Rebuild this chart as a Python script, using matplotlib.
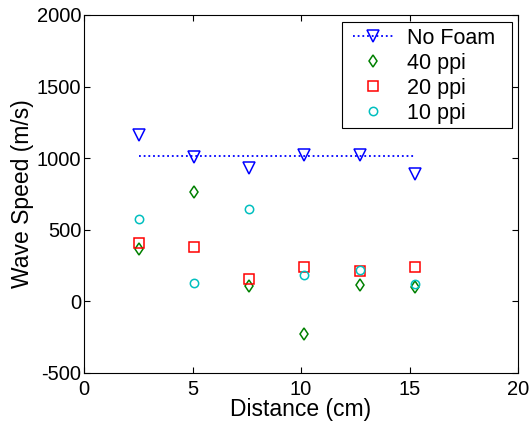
import matplotlib
matplotlib.use("Agg")
import matplotlib.pyplot as plt
from matplotlib.lines import Line2D
from matplotlib.patches import Rectangle

plt.rcParams['font.family'] = ['Liberation Sans', 'DejaVu Sans']
plt.rcParams['axes.unicode_minus'] = False

distance = [2.54, 5.08, 7.62, 10.16, 12.70, 15.24]
no_foam = [1160, 1010, 929, 1022, 1022, 893]
no_foam_avg = [1013, 1013]
ppi40 = [366, 766, 107, -230, 115, 103]
ppi20 = [405, 378, 154, 238, 212, 242]
ppi10 = [575, 128, 647, 184, 219, 121]

W, H = 530, 422
fig = plt.figure(figsize=(W / 100, H / 100), dpi=100)
# axes box in pixels: left 84, right 518, top 15, bottom 373
ax = fig.add_axes([84 / W, 49 / H, 434 / W, 358 / H])

def ax_frac(px, py):
    return ((px - 84) / 434, (373 - py) / 358)

blue = (0, 0, 1)
green = (0, 0.5, 0)
red = (1, 0, 0)
cyan = (0, 0.75, 0.75)
dot = (0, (1, 1.6))

ax.plot([distance[0], distance[-1]], no_foam_avg, color=blue, ls=dot, lw=1.3)
ax.plot(distance, no_foam, ls='none', marker='v', ms=8, mfc='none', mec=blue, mew=1.1)
ax.plot(distance, ppi40, ls='none', marker='d', ms=6.5, mfc='none', mec=green, mew=1.1)
ax.plot(distance, ppi20, ls='none', marker='s', ms=6.5, mfc='none', mec=red, mew=1.1)
ax.plot(distance, ppi10, ls='none', marker='o', ms=6.0, mfc='none', mec=cyan, mew=1.1)

ax.set_xlim(0, 20)
ax.set_ylim(-500, 2000)
ax.set_xticks([0, 5, 10, 15, 20])
ax.set_yticks([-500, 0, 500, 1000, 1500, 2000])
ax.tick_params(direction='in', top=True, right=True, length=4, width=0.8,
               labelsize=14.5)
ax.tick_params(axis='x', pad=5)
ax.tick_params(axis='y', pad=2)
for s in ax.spines.values():
    s.set_linewidth(0.8)

ax.set_xlabel('Distance (cm)', fontsize=16.5, labelpad=-1)
ax.set_ylabel('Wave Speed (m/s)', fontsize=16.5, labelpad=2)

# legend frame (MATLAB style box): pixels x 342-512, y 22-128
x0, y0 = ax_frac(342, 128)
x1, y1 = ax_frac(512, 22)
ax.add_patch(Rectangle((x0, y0), x1 - x0, y1 - y0, transform=ax.transAxes,
                       facecolor='white', edgecolor='black', lw=0.8, zorder=4,
                       clip_on=False))

handles = [
    Line2D([], [], color=blue, ls=dot, lw=1.3, marker='v', ms=8, mfc='none', mec=blue, mew=1.1),
    Line2D([], [], ls='none', marker='d', ms=6.5, mfc='none', mec=green, mew=1.1),
    Line2D([], [], ls='none', marker='s', ms=6.5, mfc='none', mec=red, mew=1.1),
    Line2D([], [], ls='none', marker='o', ms=6.0, mfc='none', mec=cyan, mew=1.1),
]
labels = ['No Foam', '40 ppi', '20 ppi', '10 ppi']
leg = ax.legend(handles, labels, loc='upper left',
                bbox_to_anchor=ax_frac(353, 28), bbox_transform=ax.transAxes,
                fontsize=15.5, frameon=False,
                borderaxespad=0, borderpad=0, handlelength=1.9,
                handletextpad=0.6, labelspacing=0.18)
leg.set_zorder(5)

fig.savefig('out.png', dpi=100, facecolor='white')
